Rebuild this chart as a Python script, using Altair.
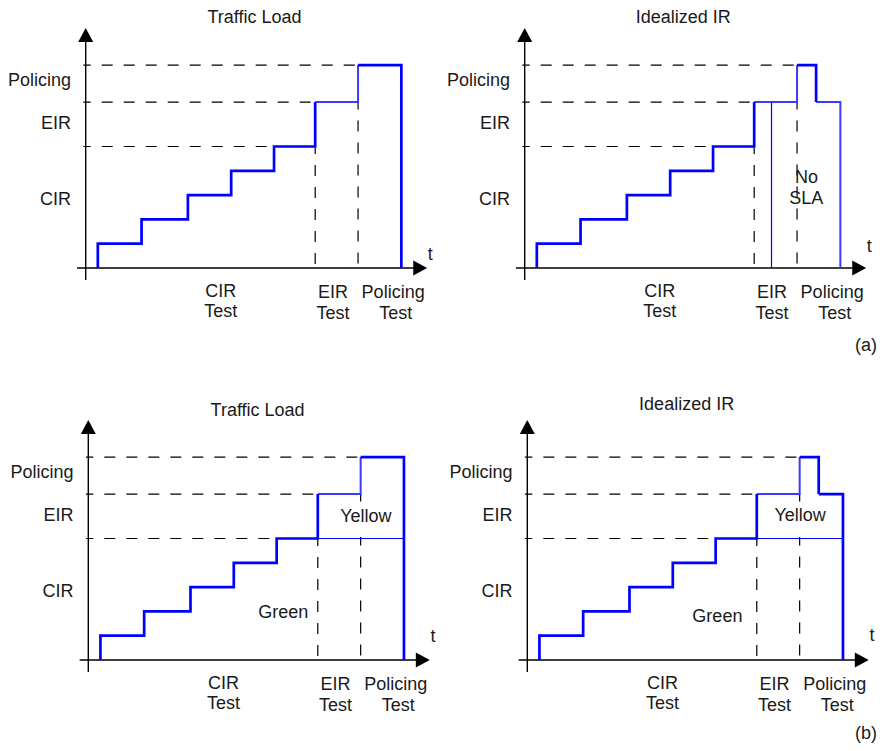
import altair as alt
import pandas as pd

# ---------------- values ----------------
# time: one unit ~ one CIR step ; rate: one unit ~ one CIR step
step_times = [0.28, 1.29, 2.36, 3.36, 4.35, 5.30, 6.29, 7.29]
cir_levels = [1, 2, 3, 4, 5]
CIR_RATE = 5.0
EIR_RATE = 6.83
POLICING_RATE = 8.35
peak_end = 6.73        # end of the policing burst in the idealized IR
no_sla_time = 5.70     # thin line of the "No SLA" zone

panel_titles = ["Traffic Load", "Idealized IR", "Traffic Load", "Idealized IR"]
rate_labels = ["Policing", "EIR", "CIR"]
phase_top = ["CIR", "EIR", "Policing"]
phase_bottom = ["Test", "Test", "Test"]
zone_labels = ["Green", "Yellow"]
sla_labels = ["No", "SLA"]
tags = ["(a)", "(b)"]

# ---------------- layout ----------------
W, H = 869, 735
PX_T, PX_L = 43.3, 24.3          # pixels per time unit / rate unit
FONT = "Liberation Sans"
FS = 18
TXT = "#1a1a1a"
BLUE = "#0000ff"
LIGHT = "#3a3aff"

panels = [
    dict(ax=85.7, by=268, kind="load", colored=False, tag=None, t_up=0.53,
         title_x=3.90, title_y=10.28, tag_xy=None),
    dict(ax=524.7, by=268, kind="ir", colored=False, tag=tags[0], t_up=0.86,
         title_x=3.66, title_y=10.27, tag_xy=(7.88, -3.21)),
    dict(ax=88.3, by=660, kind="load", colored=True, tag=None, t_up=0.95,
         title_x=3.91, title_y=10.26, tag_xy=None),
    dict(ax=527.3, by=660, kind="ir", colored=True, tag=tags[1], t_up=0.99,
         title_x=3.68, title_y=10.49, tag_xy=(7.82, -3.04)),
]

t0, t1, t2, t3, t4, t5, t6, t7 = step_times
AX_TIP_T = 341.5 / PX_T
AX_TIP_L = 240 / PX_L
ARROW_T = 7 / PX_T
ARROW_L = 7 / PX_L

layers = []


def scales(p):
    xs = alt.Scale(domain=[(8 - p["ax"]) / PX_T, (8 + W - p["ax"]) / PX_T], nice=False, zero=False)
    ys = alt.Scale(domain=[(p["by"] - 8 - H) / PX_L, (p["by"] - 8) / PX_L], nice=False, zero=False)
    return xs, ys


def enc_xy(xs, ys, x="x", y="y"):
    return dict(x=alt.X(f"{x}:Q", scale=xs, axis=None), y=alt.Y(f"{y}:Q", scale=ys, axis=None))


def line_layer(segs, xs, ys, color, width):
    rows = []
    for k, seg in enumerate(segs):
        for j, (t, v) in enumerate(seg):
            rows.append(dict(x=t, y=v, seg=k, o=j))
    return alt.Chart(pd.DataFrame(rows)).mark_line(
        color=color, strokeWidth=width, strokeJoin="miter", strokeCap="butt"
    ).encode(**enc_xy(xs, ys), detail="seg:N", order="o:Q")


def rule_layer(rows, xs, ys, **style):
    return alt.Chart(pd.DataFrame(rows)).mark_rule(**style).encode(
        x=alt.X("x:Q", scale=xs, axis=None), x2="x2:Q",
        y=alt.Y("y:Q", scale=ys, axis=None), y2="y2:Q",
    )


def text_layer(rows, xs, ys, align="center"):
    return alt.Chart(pd.DataFrame(rows)).mark_text(
        font=FONT, fontSize=FS, color=TXT, align=align, baseline="middle"
    ).encode(**enc_xy(xs, ys), text="label:N")


def staircase():
    pts = [(t0, 0)]
    for i, lv in enumerate(cir_levels):
        pts.append((step_times[i], lv))
        pts.append((step_times[i + 1], lv))
    pts.append((t5, EIR_RATE))
    return pts


for i, p in enumerate(panels):
    xs, ys = scales(p)

    # dashed guides
    dash_rows = [
        dict(x=-0.055, x2=t6, y=POLICING_RATE, y2=POLICING_RATE),
        dict(x=-0.055, x2=t5, y=EIR_RATE, y2=EIR_RATE),
        dict(x=-0.055, x2=t4, y=CIR_RATE, y2=CIR_RATE),
        dict(x=t5, x2=t5, y=CIR_RATE, y2=0),
        dict(x=t6, x2=t6, y=EIR_RATE, y2=0),
    ]
    layers.append(rule_layer(dash_rows, xs, ys, color="black", strokeWidth=1.2,
                             strokeDash=[11, 11], strokeDashOffset=3.6))

    # white box behind the "Yellow" label (hides the dashed guide)
    if p["colored"]:
        yx = 6.41 if p["kind"] == "load" else 6.30
        box = pd.DataFrame([dict(x=yx - 0.62, x2=yx + 0.62, y=CIR_RATE + 0.06, y2=6.45)])
        layers.append(alt.Chart(box).mark_rect(color="white", opacity=1).encode(
            x=alt.X("x:Q", scale=xs, axis=None), x2="x2:Q",
            y=alt.Y("y:Q", scale=ys, axis=None), y2="y2:Q"))

    # axes
    axis_rows = [
        dict(x=0, x2=0, y=-0.49, y2=AX_TIP_L - ARROW_L),
        dict(x=-0.2, x2=AX_TIP_T - ARROW_T, y=0, y2=0),
    ]
    layers.append(rule_layer(axis_rows, xs, ys, color="black", strokeWidth=1.4))
    layers.append(alt.Chart(pd.DataFrame([dict(x=0, y=AX_TIP_L - ARROW_L)])).mark_point(
        shape="M-1,0.93L0,-0.93L1,0.93Z", size=225, filled=True, color="black", opacity=1, strokeWidth=0
    ).encode(**enc_xy(xs, ys)))
    layers.append(alt.Chart(pd.DataFrame([dict(x=AX_TIP_T - ARROW_T, y=0)])).mark_point(
        shape="M-0.93,-1L0.93,0L-0.93,1Z", size=225, filled=True, color="black", opacity=1, strokeWidth=0
    ).encode(**enc_xy(xs, ys)))

    # profile
    light = [[(t5, EIR_RATE), (t6, EIR_RATE), (t6, POLICING_RATE)]]
    if p["kind"] == "load":
        thick = [staircase(), [(t6, POLICING_RATE), (t7, POLICING_RATE), (t7, 0)]]
    else:
        thick = [staircase(), [(t6, POLICING_RATE), (peak_end, POLICING_RATE), (peak_end, EIR_RATE)]]
        tail = [(peak_end, EIR_RATE), (t7, EIR_RATE), (t7, 0)]
        if p["colored"]:
            thick.append(tail)
        else:
            light.append(tail)
    thin = []
    if p["colored"]:
        thin.append([(t5, CIR_RATE), (t7, CIR_RATE)])
    elif p["kind"] == "ir":
        thin.append([(no_sla_time, 0), (no_sla_time, EIR_RATE)])

    layers.append(line_layer(light, xs, ys, LIGHT, 2.0))
    layers.append(line_layer(thick, xs, ys, BLUE, 2.7))
    if thin:
        layers.append(line_layer(thin, xs, ys, BLUE, 1.2))

    # rate labels (left of the axis)
    rate_y = [7.7, 5.93, 2.8]
    layers.append(text_layer([dict(x=-0.34, y=yy, label=l) for l, yy in zip(rate_labels, rate_y)],
                             xs, ys, align="right"))

    # other texts
    rows = [dict(x=p["title_x"], y=p["title_y"], label=panel_titles[i]),
            dict(x=7.96, y=p["t_up"], label="t")]
    phase_x_top = [3.12, 5.71, 7.10]
    phase_x_bot = [3.12, 5.71, 7.16]
    phase_y = [(-0.99, -1.82), (-1.04, -1.9), (-1.04, -1.9)]
    for k in range(3):
        rows.append(dict(x=phase_x_top[k], y=phase_y[k][0], label=phase_top[k]))
        rows.append(dict(x=phase_x_bot[k], y=phase_y[k][1], label=phase_bottom[k]))
    if p["kind"] == "ir" and not p["colored"]:
        rows.append(dict(x=6.51, y=3.70, label=sla_labels[0]))
        rows.append(dict(x=6.50, y=2.84, label=sla_labels[1]))
    if p["colored"]:
        if p["kind"] == "load":
            rows.append(dict(x=4.50, y=1.95, label=zone_labels[0]))
            rows.append(dict(x=6.41, y=5.90, label=zone_labels[1]))
        else:
            rows.append(dict(x=4.39, y=1.78, label=zone_labels[0]))
            rows.append(dict(x=6.30, y=5.93, label=zone_labels[1]))
    if p["tag"]:
        rows.append(dict(x=p["tag_xy"][0], y=p["tag_xy"][1], label=p["tag"]))
    layers.append(text_layer(rows, xs, ys))

chart = alt.layer(*layers).resolve_scale(x="independent", y="independent").properties(
    width=W, height=H, padding=0, autosize=alt.AutoSizeParams(type="none")
).configure_view(stroke=None)

chart.save("out.html", embed_options={"renderer": "svg", "actions": False})
